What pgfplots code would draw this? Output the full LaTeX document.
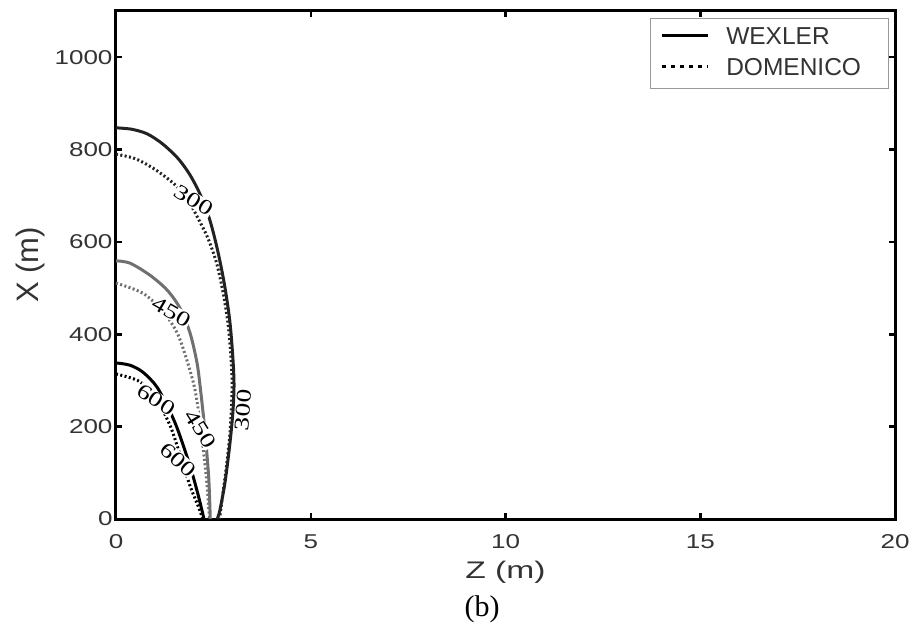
\documentclass[border=0pt]{standalone}
\usepackage{fontspec}
\setmainfont{Liberation Sans}
\newfontfamily\tnr{Liberation Serif}
\usepackage{graphicx}
\usepackage{pgfplots}
\pgfplotsset{compat=1.18}
\usetikzlibrary{calc}

\definecolor{wdark}{HTML}{222222}
\definecolor{wgray}{HTML}{707070}
\definecolor{txt}{HTML}{333333}

% the scanned figure is stretched sideways, so its text is too
\newcommand{\sx}[1]{\scalebox{1.3}[1]{#1}}
\newcommand{\cl}[1]{\scalebox{1.3}[1]{#1}}
\tikzset{clab/.style={font=\tnr\fontsize{21}{23}\selectfont, fill=white, inner sep=0.5pt}}
\pgfplotsset{
  wex/.style={forget plot, line width=3pt, smooth},
  dom/.style={forget plot, line width=3pt, smooth, dash pattern=on 2pt off 2.4pt},
}

\begin{document}
\begin{tikzpicture}
\begin{axis}[
  name=ax,
  scale only axis,
  width=779pt, height=508pt,
  xmin=0, xmax=20, ymin=0, ymax=1100,
  xtick={0,5,10,15,20},
  xticklabels={\sx{0},\sx{5},\sx{10},\sx{15},\sx{20}},
  ytick={0,200,400,600,800,1000},
  yticklabels={\sx{0},\sx{200},\sx{400},\sx{600},\sx{800},\sx{1000}},
  tick align=inside,
  major tick length=6pt,
  tick style={black, line width=2.5pt},
  axis line style={black, line width=3pt},
  tick label style={font=\fontsize{20}{22}\selectfont, text=txt},
  xticklabel style={yshift=-12pt},
  xlabel={\scalebox{1.4}[1]{Z (m)}},
  ylabel={X (m)},
  every axis x label/.style={at={(axis description cs:0.5,-0.1043)}, anchor=center,
    font=\fontsize{24}{26}\selectfont, text=txt},
  every axis y label/.style={at={(axis description cs:-0.1104,0.5)}, rotate=90, anchor=center,
    font=\fontsize{31}{33}\selectfont, text=txt},
  legend image code/.code={\draw[#1] (0pt,3pt) -- (46pt,3pt);},
  legend cell align=left,
  legend style={at={(0.992,0.986)}, anchor=north east,
    draw=gray!80, line width=1pt,
    font=\fontsize{24.5}{27}\selectfont, text=txt,
    inner xsep=10pt, inner ysep=5pt,
    row sep=2pt, column sep=14pt,
    nodes={inner sep=3pt, text height=18pt, text depth=5pt}},
]
\addlegendimage{black, line width=3pt}
\addlegendentry{\makebox[149pt][l]{WEXLER}}
\addlegendimage{black, line width=3pt, dash pattern=on 4pt off 5pt}
\addlegendentry{\makebox[149pt][l]{DOMENICO}}

% WEXLER 300
\addplot[wex, wdark] coordinates {
  (0,847) (0.4,844) (0.8,834) (1.2,812) (1.6,780) (1.9,745) (2.16,703)
  (2.4,650) (2.6,585) (2.78,510) (2.92,430) (3.0,350) (3.03,290)
  (3.0,230) (2.92,160) (2.8,80) (2.67,20) (2.6,0)
};
% DOMENICO 300
\addplot[dom, wdark] coordinates {
  (0,790) (0.5,780) (1.0,757) (1.5,725) (1.85,690) (2.1,652) (2.35,610)
  (2.58,555) (2.75,490) (2.88,420) (2.96,340) (2.98,280) (2.93,190)
  (2.83,110) (2.72,40) (2.66,0)
};
% WEXLER 450
\addplot[wex, wgray] coordinates {
  (0,559) (0.36,554) (0.87,528) (1.31,496) (1.64,457) (1.9,403)
  (2.08,338) (2.17,280) (2.28,193) (2.38,90) (2.42,0)
};
% DOMENICO 450
\addplot[dom, wgray] coordinates {
  (0,511) (0.69,489) (1.2,450) (1.57,403) (1.82,344) (2.03,279)
  (2.18,193) (2.32,90) (2.4,0)
};
% WEXLER 600
\addplot[wex, black] coordinates {
  (0,338) (0.36,333) (0.69,318) (1.05,286) (1.39,232) (1.6,190)
  (1.9,115) (2.1,55) (2.26,0)
};
% DOMENICO 600
\addplot[dom, black] coordinates {
  (0,314) (0.62,297) (1.08,253) (1.4,200) (1.64,140) (1.9,72) (2.1,30) (2.23,0)
};

% contour labels
\node[clab, rotate=-32] at (axis cs:2.0,690) {\cl{300}};
\node[clab, rotate=-30] at (axis cs:1.42,448) {\cl{450}};
\node[clab, rotate=-33] at (axis cs:1.03,258) {\cl{600}};
\node[clab, rotate=-58] at (axis cs:2.17,195) {\cl{450}};
\node[clab, rotate=-42] at (axis cs:1.60,128) {\cl{600}};
\node[clab, fill=none, rotate=85] at (axis cs:3.26,236) {\cl{300}};
\end{axis}
\node[font=\tnr\fontsize{30}{32}\selectfont] at ($(ax.south west)+(366pt,-90pt)$) {(b)};
\pgfresetboundingbox
\path[use as bounding box] ($(ax.south west)+(-116pt,-108pt)$) rectangle ($(ax.north east)+(20pt,11pt)$);
\end{tikzpicture}
\end{document}
